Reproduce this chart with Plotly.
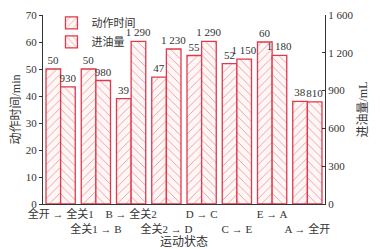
import plotly.graph_objects as go

categories = ["全开 → 全关1", "全关1 → B", "B → 全关2", "全关2 → D", "D → C", "C → E", "E → A", "A → 全开"]
action_time = [50, 50, 39, 47, 55, 52, 60, 38]
oil_volume = [930, 980, 1290, 1230, 1290, 1150, 1180, 810]
oil_labels = ["930", "980", "1 290", "1 230", "1 290", "1 150", "1 180", "810"]
y2_tickvals = [0, 300, 600, 900, 1200, 1500]
y2_ticktext = ["0", "300", "600", "900", "1 200", "1 600"]

RED = "#e0394b"
FONT = "Liberation Serif, Noto Sans CJK SC, serif"
TXT = "#333333"

ticktext = [c if i % 2 == 0 else "<br>" + c for i, c in enumerate(categories)]

fig = go.Figure()
fig.add_trace(go.Bar(
    x=list(range(len(categories))), y=action_time, name="动作时间",
    offsetgroup="a", yaxis="y",
    text=[str(v) for v in action_time], textposition="outside", cliponaxis=False,
    constraintext="none",
    textfont=dict(size=11, color=TXT, family=FONT),
    marker=dict(color="white", line=dict(color=RED, width=1.3),
                pattern=dict(shape="/", fgcolor=RED, bgcolor="#fff6f6", size=6, solidity=0.15)),
))
fig.add_trace(go.Bar(
    x=list(range(len(categories))), y=oil_volume, name="进油量",
    offsetgroup="b", yaxis="y2",
    text=oil_labels, textposition="outside", cliponaxis=False,
    constraintext="none",
    textfont=dict(size=11, color=TXT, family=FONT),
    marker=dict(color="white", line=dict(color=RED, width=1.3),
                pattern=dict(shape="\\", fgcolor=RED, bgcolor="#fff6f6", size=6, solidity=0.15)),
))

fig.update_layout(
    width=380, height=249,
    margin=dict(l=43, r=55, t=15, b=45, autoexpand=False),
    paper_bgcolor="white", plot_bgcolor="white",
    barmode="group", bargap=0.17, bargroupgap=0,
    font=dict(family=FONT, size=11, color=TXT),
    showlegend=True,
    legend=dict(x=0.03, y=1.035, xanchor="left", yanchor="top", bgcolor="rgba(0,0,0,0)",
                font=dict(size=11, color=TXT, family=FONT), itemwidth=30,
                tracegroupgap=0, traceorder="normal"),
    xaxis=dict(tickvals=list(range(len(categories))), ticktext=ticktext, tickangle=0,
               range=[-0.5, 7.5], showline=True, linecolor="#333", linewidth=1,
               ticks="", showgrid=False, zeroline=False,
               tickfont=dict(size=11, family=FONT, color=TXT),
               title=dict(text="运动状态", font=dict(size=12, family=FONT, color=TXT), standoff=14)),
    yaxis=dict(range=[0, 70], dtick=10, showline=True, linecolor="#333", linewidth=1,
               ticks="outside", ticklen=3, tickcolor="#333", showgrid=False, zeroline=False,
               tickfont=dict(size=11, family=FONT, color=TXT),
               title=dict(text="动作时间/min", font=dict(size=12, family=FONT, color=TXT), standoff=2)),
    yaxis2=dict(overlaying="y", side="right", range=[0, 1500],
                tickvals=y2_tickvals, ticktext=y2_ticktext,
                showline=True, linecolor="#333", linewidth=1,
                ticks="inside", ticklen=3, tickcolor="#333", showgrid=False, zeroline=False,
                tickfont=dict(size=11, family=FONT, color=TXT),
                title=dict(text="进油量/mL", font=dict(size=12, family=FONT, color=TXT), standoff=6)),
)

fig.write_html("out.html", config={"displayModeBar": False},
               post_script="document.body.style.margin='0';document.body.style.padding='0';")
